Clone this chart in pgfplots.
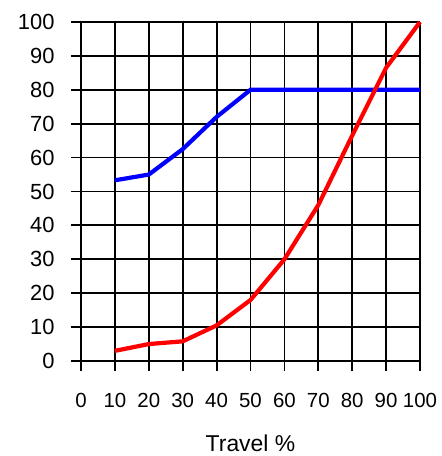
\documentclass[border=0pt]{standalone}
\usepackage{fontspec}
\setmainfont{Liberation Sans}
\usepackage{pgfplots}
\pgfplotsset{compat=1.18}
\begin{document}
\begin{tikzpicture}[x=1bp,y=1bp]
\path[use as bounding box] (-81bp,-95bp) rectangle (361bp,361bp);
\begin{axis}[
  at={(0,0)}, anchor=origin,
  scale only axis, width=339bp, height=339bp,
  xmin=0, xmax=100, ymin=0, ymax=100,
  xtick={0,10,...,100}, ytick={0,10,...,100},
  grid=major,
  grid style={black, line width=1.8bp},
  axis line style={black, line width=1.8bp},
  axis x line*=bottom, axis y line*=left,
  x axis line style={-}, y axis line style={-},
  tick style={black, line width=1.8bp},
  tick align=outside,
  major tick length=10bp,
  /pgf/number format/assume math mode=true,
  xticklabel style={font=\fontsize{20.5}{24}\selectfont, yshift=-19bp},
  yticklabel style={font=\fontsize{22}{24}\selectfont, xshift=-13bp},
  xlabel={Travel \%},
  xlabel style={font=\fontsize{23}{26}\selectfont, yshift=-20bp},
  clip=false,
]
\addplot[blue, line width=4.2bp] coordinates {
  (10,53.3) (20,55) (30,62.5) (40,72) (50,80) (60,80) (70,80) (80,80) (90,80) (100,80)
};
\addplot[red, line width=4.2bp] coordinates {
  (10,3) (20,5) (30,5.8) (40,10.5) (50,18) (60,30) (70,46) (80,66.5) (90,86.5) (100,100)
};
\end{axis}
\end{tikzpicture}
\end{document}
